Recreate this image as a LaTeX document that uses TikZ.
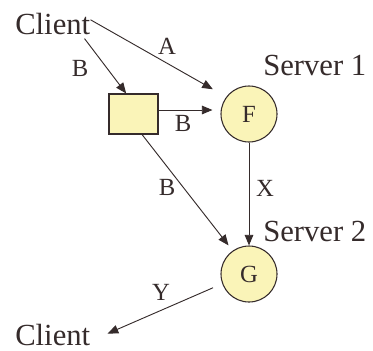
\documentclass[tikz,border=0pt]{standalone}
\usepackage{fontspec}
\setmainfont{Liberation Serif}
\newfontfamily\figserif{Liberation Serif}
\usetikzlibrary{arrows.meta}
\definecolor{ink}{HTML}{352B2B}
\definecolor{paleyellow}{HTML}{FAF4B8}
\begin{document}
\begin{tikzpicture}[x=0.75pt,y=-0.75pt,
  bigtext/.style={inner sep=0pt,text=ink,font=\figserif\fontsize{23}{27}\selectfont},
  lbl/.style={inner sep=0pt,text=ink,font=\figserif\fontsize{18.5}{22}\selectfont},
  server/.style={circle,draw=ink,line width=0.8pt,fill=paleyellow,minimum size=42pt,inner sep=0pt,text=ink,font=\figserif\fontsize{18.5}{22}\selectfont},
  proxybox/.style={rectangle,draw=ink,line width=0.8pt,fill=paleyellow,minimum width=36.75pt,minimum height=30pt,inner sep=0pt},
  arr/.style={draw=ink,line width=0.7pt,-{Triangle[length=8pt,width=6.5pt]}}]
\useasboundingbox (0,0) rectangle (373,350);

% nodes
\node[bigtext,anchor=base west] (ct) at (15,34) {Client};
\node[bigtext,anchor=base west] (cb) at (15,345.5) {Client};
\node[bigtext,anchor=base west] (s1) at (263,75) {Server 1};
\node[bigtext,anchor=base west] (s2) at (263,241.5) {Server 2};
\node[proxybox] (box) at (133.5,114) {};
\node[server] (F) at (249,114) {F};
\node[server] (G) at (249,274) {G};

% connectors
\draw[arr,shorten >=11.5pt] ([yshift=2.8pt]ct.east) -- (F.143);
\draw[arr] ([xshift=-4.5pt,yshift=-3pt]ct.south east) -- ([xshift=-5.5pt]box.north);
\draw[arr,shorten >=6pt] ([yshift=3pt]box.east) -- ([yshift=3pt]F.west);
\draw[arr,shorten >=5pt] ([xshift=6.4pt]box.south) -- (G.125);
\draw[arr] (F.south) -- (G.north);
\draw[arr,shorten <=7.5pt,shorten >=14pt] (G.200) -- ([yshift=-4.5pt]cb.east);

% connector labels
\node[lbl] (la) at (167,46) {A};
\node[lbl] (lb1) at (80,68) {B};
\node[lbl] (lb2) at (183,123) {B};
\node[lbl] (lb3) at (167,187) {B};
\node[lbl] (lx) at (265,188) {X};
\node[lbl] (ly) at (161,292) {Y};
\end{tikzpicture}
\end{document}
